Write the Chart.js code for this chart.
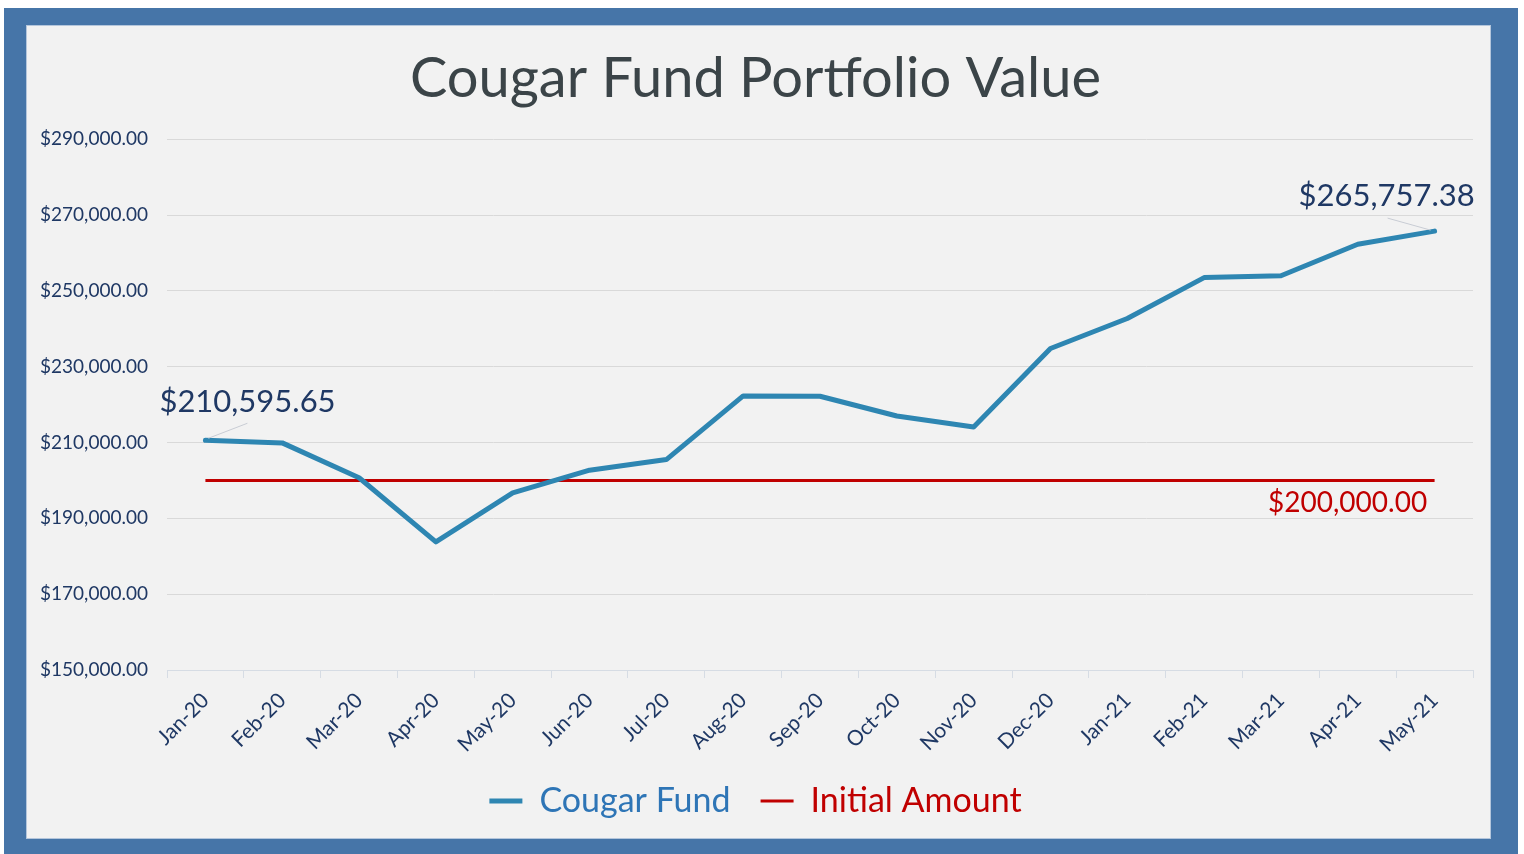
<!DOCTYPE html>
<html>
<head>
<meta charset="utf-8">
<script src="https://cdn.jsdelivr.net/npm/chart.js@4.4.1/dist/chart.umd.min.js"></script>
<style>
  html, body { margin: 0; padding: 0; background: #ffffff; }
  body { width: 1524px; height: 854px; position: relative; overflow: hidden; }
  #frame { position: absolute; left: 4px; top: 8px; width: 1514px; height: 846px; background: #4675a8; }
  #panel { position: absolute; left: 27px; top: 26px; width: 1463px; height: 812px; background: #f2f2f2;
           box-shadow: 0 0 0 1px #b4c6dc; }
  #panel canvas { display: block; }
</style>
</head>
<body>
<div id="frame"></div>
<div id="panel"><canvas id="c" width="1463" height="812"></canvas></div>
<script>
const months = ['Jan-20','Feb-20','Mar-20','Apr-20','May-20','Jun-20','Jul-20','Aug-20','Sep-20',
                'Oct-20','Nov-20','Dec-20','Jan-21','Feb-21','Mar-21','Apr-21','May-21'];
const cougarFund = [210595.65, 209900, 200700, 183800, 196700, 202700, 205500, 222300, 222200,
                    217000, 214100, 234800, 242700, 253500, 254000, 262300, 265757.38];
const initialAmount = [200000, 200000, 200000, 200000, 200000, 200000, 200000, 200000, 200000,
                       200000, 200000, 200000, 200000, 200000, 200000, 200000, 200000];
const yTicks = [150000, 170000, 190000, 210000, 230000, 250000, 270000, 290000];

const money = v => '$' + Number(v).toLocaleString('en-US', {minimumFractionDigits: 2, maximumFractionDigits: 2});

const NAVY = '#1f3864';
const LINE_BLUE = '#2e86b2';
const RED = '#c00000';

const labelPlugin = {
  id: 'pointLabels',
  afterDatasetsDraw(chart) {
    const ctx = chart.ctx;
    const m0 = chart.getDatasetMeta(0).data;
    const m1 = chart.getDatasetMeta(1).data;
    const first = m0[0], last = m0[m0.length - 1], redLast = m1[m1.length - 1];
    ctx.save();
    ctx.strokeStyle = '#c8ccd4';
    ctx.lineWidth = 1;
    ctx.beginPath();
    ctx.moveTo(first.x + 3, first.y - 2);
    ctx.lineTo(first.x + 42, first.y - 17);
    ctx.moveTo(last.x - 4, last.y - 1);
    ctx.lineTo(last.x - 47, last.y - 13);
    ctx.stroke();
    ctx.textBaseline = 'middle';
    ctx.font = '31px Lato';
    ctx.fillStyle = NAVY;
    ctx.textAlign = 'left';
    ctx.fillText(money(cougarFund[0]), first.x - 46, first.y - 38);
    ctx.textAlign = 'center';
    ctx.fillText(money(cougarFund[cougarFund.length - 1]), last.x - 48, last.y - 35);
    ctx.font = '28px Lato';
    ctx.fillStyle = RED;
    ctx.fillText(money(initialAmount[initialAmount.length - 1]), redLast.x - 87, redLast.y + 23);
    ctx.restore();
  }
};

new Chart(document.getElementById('c'), {
  type: 'line',
  data: {
    labels: months,
    datasets: [
      { label: 'Cougar Fund', data: cougarFund, borderColor: LINE_BLUE, backgroundColor: LINE_BLUE,
        borderWidth: 5, pointRadius: 0, tension: 0, borderJoinStyle: 'round', borderCapStyle: 'round' },
      { label: 'Initial Amount', data: initialAmount, borderColor: RED, backgroundColor: RED,
        borderWidth: 3, pointRadius: 0, tension: 0 }
    ]
  },
  options: {
    responsive: false,
    devicePixelRatio: 1,
    animation: false,
    layout: { padding: { left: 11, right: 17, top: 0, bottom: 10 } },
    plugins: {
      title: {
        display: true,
        text: 'Cougar Fund Portfolio Value',
        color: '#3b4448',
        font: { family: 'Lato', size: 56, weight: 'normal' },
        padding: { top: 19, bottom: 27 }
      },
      legend: {
        position: 'bottom',
        labels: {
          font: { family: 'Lato', size: 34 },
          usePointStyle: true,
          pointStyle: 'line',
          pointStyleWidth: 33,
          padding: 30,
          generateLabels(chart) {
            const items = Chart.defaults.plugins.legend.labels.generateLabels(chart);
            const cols = ['#2e75b6', RED];
            items.forEach((it, i) => { it.fontColor = cols[i]; it.pointStyle = 'line'; });
            return items;
          }
        }
      },
      tooltip: { enabled: false }
    },
    scales: {
      x: {
        offset: true,
        grid: { offset: true, drawOnChartArea: false, color: '#d6dce4', tickLength: 8 },
        border: { color: '#d6dce4' },
        ticks: { color: NAVY, font: { family: 'Lato', size: 21 }, minRotation: 45, maxRotation: 45, padding: 10 },
        afterFit(scale) { scale.height = 84; }
      },
      y: {
        min: 150000, max: 290000,
        afterBuildTicks(scale) { scale.ticks = yTicks.map(v => ({ value: v })); },
        grid: { color: '#d9d9d9', drawTicks: false },
        border: { display: false },
        ticks: { color: NAVY, font: { family: 'Lato', size: 19 }, padding: 19, callback: v => money(v) },
        afterFit(scale) { scale.width = 129; }
      }
    }
  },
  plugins: [labelPlugin]
});
</script>
</body>
</html>
